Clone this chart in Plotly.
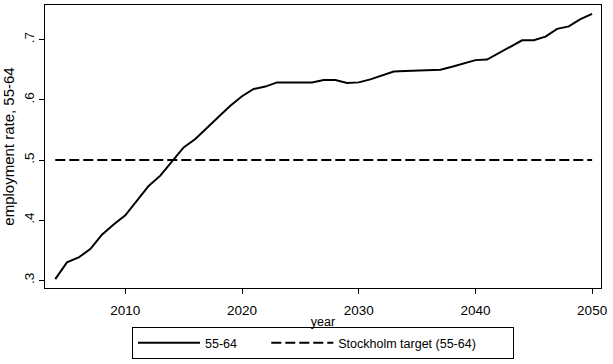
import plotly.graph_objects as go

years = list(range(2004, 2051))
rate_55_64 = [0.302, 0.330, 0.338, 0.352, 0.376, 0.393, 0.408, 0.432, 0.457, 0.474,
              0.497, 0.521, 0.535, 0.554, 0.572, 0.590, 0.606, 0.618, 0.622, 0.629,
              0.629, 0.629, 0.629, 0.633, 0.633, 0.628, 0.629, 0.634, 0.640, 0.647,
              0.648, 0.649, 0.649, 0.650, 0.655, 0.661, 0.666, 0.667, 0.678, 0.689,
              0.699, 0.699, 0.705, 0.718, 0.722, 0.734, 0.743]
target = [0.5] * len(years)
x_ticks = [2010, 2020, 2030, 2040, 2050]
y_ticks = [0.3, 0.4, 0.5, 0.6, 0.7]
y_tick_labels = [".3", ".4", ".5", ".6", ".7"]

FONT = "Liberation Sans, Arial, sans-serif"
NB = "\u00a0"

fig = go.Figure()
fig.add_trace(go.Scatter(x=years, y=rate_55_64, mode="lines", name="55-64" + NB * 7,
                         line=dict(color="black", width=2)))
fig.add_trace(go.Scatter(x=years, y=target, mode="lines",
                         name="Stockholm target (55-64)" + NB * 9,
                         line=dict(color="black", width=2, dash="10px,4px")))

fig.update_layout(
    width=613, height=364,
    margin=dict(l=45, r=12, t=5, b=73),
    paper_bgcolor="white", plot_bgcolor="white",
    font=dict(family=FONT, size=13.5, color="black"),
    showlegend=True,
    legend=dict(orientation="h", x=0.5, xanchor="center", y=-0.2517, yanchor="bottom",
                bordercolor="black", borderwidth=1, bgcolor="white",
                font=dict(size=12.5), itemwidth=62, tracegroupgap=0),
)
fig.update_xaxes(range=[2003.12, 2050.76], tickvals=x_ticks, ticks="outside", ticklen=5,
                 tickcolor="black", showline=True, linecolor="black", linewidth=1,
                 mirror=True, showgrid=False, zeroline=False, automargin=False,
                 tickfont=dict(size=13.5), ticklabelstandoff=5,
                 title=dict(text="year", standoff=0, font=dict(size=12.5)))
fig.update_yaxes(range=[0.2873, 0.7576], tickvals=y_ticks, ticktext=y_tick_labels,
                 ticks="outside", ticklen=5, tickcolor="black", tickangle=-90,
                 showline=True, linecolor="black", linewidth=1, mirror=True,
                 showgrid=False, zeroline=False, automargin=False,
                 tickfont=dict(size=13.5),
                 title=dict(text="employment rate, 55-64", standoff=6, font=dict(size=15)))

fig.write_html("out.html", config={"displayModeBar": False},
               post_script="document.body.style.margin='0';document.body.style.overflow='hidden';")
